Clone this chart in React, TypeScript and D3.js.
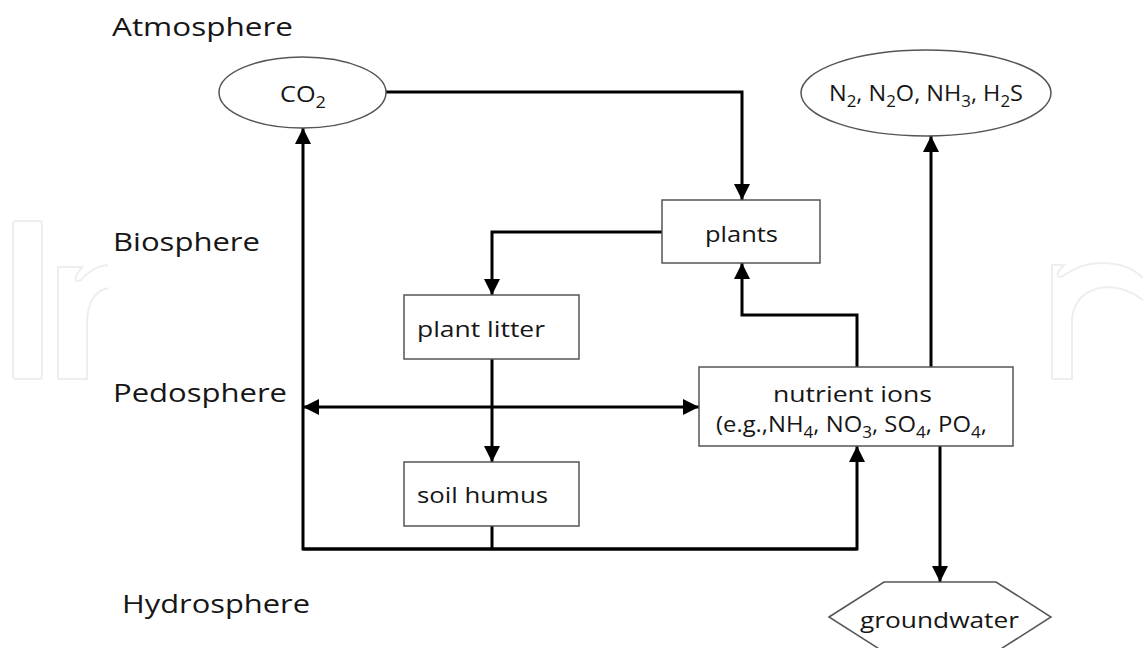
import React from "react";
import * as d3 from "d3";

// sphere labels down the left side
const sphereLabels = ["Atmosphere", "Biosphere", "Pedosphere", "Hydrosphere"];
const sphereBaselines = [36, 251, 402, 613];
const sphereX = [112, 113, 113, 122];
const sphereWidths = [181, 147, 174, 188];

// text pieces: [text, isSubscript]
type Seg = [string, boolean];
const co2Label: Seg[] = [["CO", false], ["2", true]];
const gasLabel: Seg[] = [
  ["N", false], ["2", true], [", N", false], ["2", true], ["O, NH", false],
  ["3", true], [", H", false], ["2", true], ["S", false],
];
const ionsLine1: Seg[] = [["nutrient ions", false]];
const ionsLine2: Seg[] = [
  ["(e.g.,NH", false], ["4", true], [", NO", false], ["3", true],
  [", SO", false], ["4", true], [", PO", false], ["4", true], [",", false],
];

// nodes of the diagram
const nodes = [
  { id: "co2", shape: "ellipse", x: 219, y: 57, w: 167, h: 71 },
  { id: "gas", shape: "ellipse", x: 801, y: 50, w: 250, h: 86 },
  { id: "plants", shape: "rect", x: 662, y: 200, w: 158, h: 63 },
  { id: "litter", shape: "rect", x: 404, y: 295, w: 175, h: 64 },
  { id: "humus", shape: "rect", x: 404, y: 462, w: 175, h: 64 },
  { id: "ions", shape: "rect", x: 699, y: 367, w: 314, h: 79 },
  { id: "ground", shape: "hex", x: 829, y: 582, w: 222, h: 70 },
];

const labels = [
  { segs: co2Label, x: 280, y: 102, w: 46, size: 21.5 },
  { segs: gasLabel, x: 829, y: 101, w: 194, size: 21.5 },
  { segs: [["plants", false]] as Seg[], x: 705, y: 242, w: 73, size: 21.5 },
  { segs: [["plant litter", false]] as Seg[], x: 417, y: 337, w: 128, size: 21.5 },
  { segs: [["soil humus", false]] as Seg[], x: 417, y: 503, w: 131, size: 21.5 },
  { segs: ionsLine1, x: 773, y: 402, w: 159, size: 21.5 },
  { segs: ionsLine2, x: 716, y: 432, w: 271, size: 21.5 },
  { segs: [["groundwater", false]] as Seg[], x: 860, y: 628, w: 159, size: 21.5 },
];

// connectors: waypoints, arrow at start / end
const edges: { pts: [number, number][]; start?: boolean; end?: boolean }[] = [
  { pts: [[386, 92], [742, 92], [742, 200]], end: true },
  { pts: [[662, 232], [492, 232], [492, 295]], end: true },
  { pts: [[492, 359], [492, 462]], end: true },
  { pts: [[303, 407], [699, 407]], start: true, end: true },
  { pts: [[857, 367], [857, 315], [742, 315], [742, 263]], end: true },
  { pts: [[931, 367], [931, 136]], end: true },
  { pts: [[857, 549], [303, 549], [303, 128]], end: true },
  { pts: [[303, 549], [857, 549], [857, 446]], end: true },
  { pts: [[492, 526], [492, 549]] },
  { pts: [[940, 446], [940, 582]], end: true },
];

const FONT = "'Open Sans', 'Noto Sans', sans-serif";
const line = d3.line<[number, number]>();

const Label = ({ segs, x, y, w, size }: { segs: Seg[]; x: number; y: number; w: number; size: number }) => {
  let shifted = false;
  return (
    <text x={x} y={y} fontSize={size} fontFamily={FONT} fill="#161616"
      textLength={w} lengthAdjust="spacingAndGlyphs">
      {segs.map(([t, sub], i) => {
        let dy = 0;
        if (sub && !shifted) { dy = size * 0.3; shifted = true; }
        else if (!sub && shifted) { dy = -size * 0.3; shifted = false; }
        return (
          <tspan key={i} dy={dy || undefined} fontSize={sub ? size * 0.72 : size}>{t}</tspan>
        );
      })}
    </text>
  );
};

const App = () => {
  const W = 1143;
  const H = 648;
  return (
    <svg width={W} height={H} style={{ position: "absolute", left: 0, top: 0, background: "#fff" }}>
      <defs>
        <marker id="arr" viewBox="0 0 16 16" refX={16} refY={8} markerWidth={16} markerHeight={16}
          markerUnits="userSpaceOnUse" orient="auto-start-reverse">
          <path d="M0,0 L16,8 L0,16 Z" fill="#000" />
        </marker>
      </defs>

      {/* faint watermark */}
      <g fill="none" stroke="#eeeeee" strokeWidth={2}>
        <rect x={13} y={221} width={29} height={158} rx={3} />
        <path d="M58,379 V267 H82 L76,276 Q74,283 81,280 Q93,266 108,265 M108,288 Q89,292 87,320 V379 H58" />
        <path d="M1052,379 V265 H1064 L1058,272 Q1056,279 1063,276 Q1080,263 1102,263 Q1128,263 1143,278 M1143,300 Q1126,287 1106,287 Q1076,290 1072,318 V379 H1052" />
      </g>

      {sphereLabels.map((s, i) => (
        <text key={s} x={sphereX[i]} y={sphereBaselines[i]} fontSize={26} fontFamily={FONT}
          fill="#161616" textLength={sphereWidths[i]} lengthAdjust="spacingAndGlyphs">
          {s}
        </text>
      ))}

      {edges.map((e, i) => (
        <path key={i} d={line(e.pts) ?? ""} fill="none" stroke="#000" strokeWidth={3}
          markerStart={e.start ? "url(#arr)" : undefined}
          markerEnd={e.end ? "url(#arr)" : undefined} />
      ))}

      {nodes.map((n) => {
        const common = { fill: "#fff", stroke: "#555", strokeWidth: 1.5 };
        if (n.shape === "ellipse")
          return <ellipse key={n.id} cx={n.x + n.w / 2} cy={n.y + n.h / 2} rx={n.w / 2} ry={n.h / 2} {...common} />;
        if (n.shape === "hex") {
          const inset = 55;
          const pts: [number, number][] = [
            [n.x, n.y + n.h / 2], [n.x + inset, n.y], [n.x + n.w - inset, n.y],
            [n.x + n.w, n.y + n.h / 2], [n.x + n.w - inset, n.y + n.h], [n.x + inset, n.y + n.h],
          ];
          return <path key={n.id} d={(line(pts) ?? "") + "Z"} {...common} />;
        }
        return <rect key={n.id} x={n.x} y={n.y} width={n.w} height={n.h} {...common} />;
      })}

      {labels.map((l, i) => (
        <Label key={i} {...l} />
      ))}
    </svg>
  );
};

export default App;
